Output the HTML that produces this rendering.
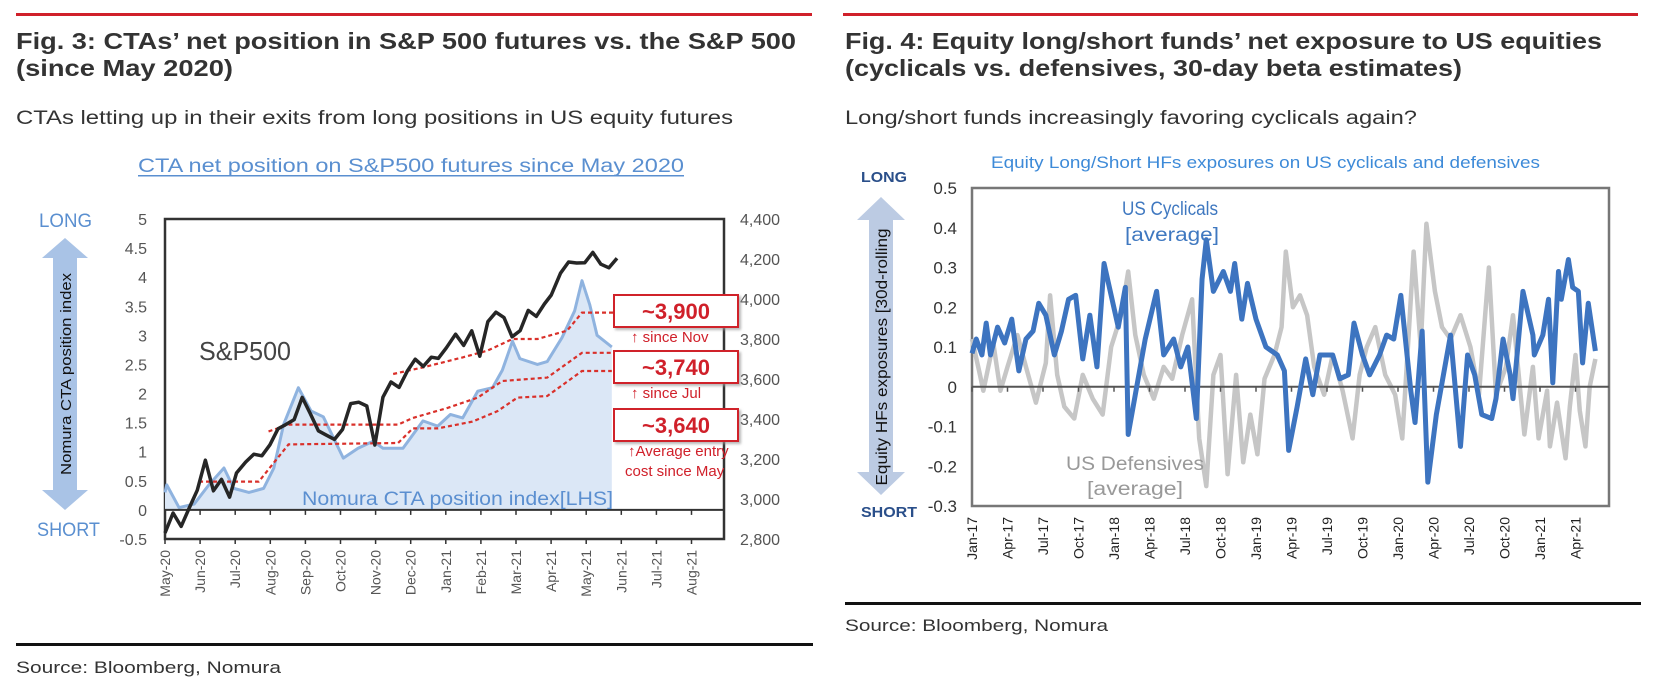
<!DOCTYPE html>
<html><head><meta charset="utf-8"><style>
html,body{margin:0;padding:0;background:#fff;}
svg{display:block;font-family:"Liberation Sans",Arial,sans-serif;}
</style></head><body>
<svg id="page" width="1662" height="695" viewBox="0 0 1662 695" xmlns="http://www.w3.org/2000/svg">
<defs>
<filter id="sh" x="-10%" y="-10%" width="130%" height="140%"><feDropShadow dx="2" dy="2" stdDeviation="1.2" flood-color="#999" flood-opacity="0.7"/></filter>
</defs>
<!-- headers -->
<rect x="16" y="13" width="796" height="3" fill="#d0202a"/>
<rect x="843" y="13" width="795" height="3" fill="#d0202a"/>
<g fill="#333" font-weight="bold" font-size="23">
<text x="16" y="49" textLength="780" lengthAdjust="spacingAndGlyphs">Fig. 3: CTAs’ net position in S&amp;P 500 futures vs. the S&amp;P 500</text>
<text x="16" y="76" textLength="217" lengthAdjust="spacingAndGlyphs">(since May 2020)</text>
<text x="845" y="49" textLength="757" lengthAdjust="spacingAndGlyphs">Fig. 4: Equity long/short funds’ net exposure to US equities</text>
<text x="845" y="76" textLength="617" lengthAdjust="spacingAndGlyphs">(cyclicals vs. defensives, 30-day beta estimates)</text>
</g>
<g fill="#333" font-size="19">
<text x="16" y="124" textLength="717" lengthAdjust="spacingAndGlyphs">CTAs letting up in their exits from long positions in US equity futures</text>
<text x="845" y="124" textLength="572" lengthAdjust="spacingAndGlyphs">Long/short funds increasingly favoring cyclicals again?</text>
</g>
<!-- footers -->
<rect x="16" y="643" width="797" height="3" fill="#111"/>
<rect x="845" y="602" width="796" height="3" fill="#111"/>
<text x="16" y="673" font-size="17" fill="#333" textLength="265" lengthAdjust="spacingAndGlyphs">Source: Bloomberg, Nomura</text>
<text x="845" y="631" font-size="17" fill="#333" textLength="263" lengthAdjust="spacingAndGlyphs">Source: Bloomberg, Nomura</text>

<!-- LEFT CHART static -->
<g id="left-chart">
<text x="138" y="172" font-size="19" fill="#5a8fd0" textLength="546" lengthAdjust="spacingAndGlyphs">CTA net position on S&amp;P500 futures since May 2020</text>
<rect x="138" y="175" width="546" height="1.5" fill="#5a8fd0"/>
<text x="39" y="227" font-size="19" fill="#5a8fd0" textLength="53" lengthAdjust="spacingAndGlyphs">LONG</text>
<text x="37" y="536" font-size="19" fill="#5a8fd0" textLength="63" lengthAdjust="spacingAndGlyphs">SHORT</text>
<polygon points="65,238 88,258 77,258 77,490 88,490 65,510 42,490 53,490 53,258 42,258" fill="#a9c3e6"/>
<text transform="translate(71,374) rotate(-90)" text-anchor="middle" font-size="15" fill="#111" textLength="202" lengthAdjust="spacingAndGlyphs">Nomura CTA position index</text>
<g id="lc-plot"></g>
<text x="199" y="360" font-size="26" fill="#444" textLength="92" lengthAdjust="spacingAndGlyphs">S&amp;P500</text>
<text x="302" y="505" font-size="19" fill="#5b8fd0" textLength="311" lengthAdjust="spacingAndGlyphs">Nomura CTA position index[LHS]</text>
<g id="lc-boxes"></g>
</g>

<!-- RIGHT CHART static -->
<g id="right-chart">
<text x="991" y="168" font-size="17" fill="#3d8ad8" textLength="549" lengthAdjust="spacingAndGlyphs">Equity Long/Short HFs exposures on US cyclicals and defensives</text>
<text x="861" y="182" font-size="15" font-weight="bold" fill="#2a4f8a" textLength="46" lengthAdjust="spacingAndGlyphs">LONG</text>
<text x="861" y="517" font-size="15" font-weight="bold" fill="#2a4f8a" textLength="56" lengthAdjust="spacingAndGlyphs">SHORT</text>
<polygon points="881,197 905,220 893,220 893,472 905,472 881,495 857,472 869,472 869,220 857,220" fill="#bccbe3"/>
<text transform="translate(887,357) rotate(-90)" text-anchor="middle" font-size="16" fill="#111" textLength="257" lengthAdjust="spacingAndGlyphs">Equity HFs exposures  [30d-rolling</text>
<g id="rc-plot"></g>
<text x="1170" y="215" text-anchor="middle" font-size="19" fill="#3f78c0" textLength="96" lengthAdjust="spacingAndGlyphs">US Cyclicals</text>
<text x="1172" y="241" text-anchor="middle" font-size="19" fill="#3f78c0" textLength="94" lengthAdjust="spacingAndGlyphs">[average]</text>
<text x="1135" y="470" text-anchor="middle" font-size="19" fill="#999" textLength="138" lengthAdjust="spacingAndGlyphs">US Defensives</text>
<text x="1135" y="495" text-anchor="middle" font-size="19" fill="#999" textLength="96" lengthAdjust="spacingAndGlyphs">[average]</text>
</g>
</svg>
<script>
// ===== LEFT CHART DATA =====
const spDates = ["2020-05-01","2020-05-08","2020-05-15","2020-05-22","2020-05-29","2020-06-05","2020-06-12","2020-06-19","2020-06-26","2020-07-02","2020-07-10","2020-07-17","2020-07-24","2020-07-31","2020-08-07","2020-08-14","2020-08-21","2020-08-28","2020-09-04","2020-09-11","2020-09-18","2020-09-25","2020-10-02","2020-10-09","2020-10-16","2020-10-23","2020-10-30","2020-11-06","2020-11-13","2020-11-20","2020-11-27","2020-12-04","2020-12-11","2020-12-18","2020-12-24","2020-12-31","2021-01-08","2021-01-15","2021-01-22","2021-01-29","2021-02-05","2021-02-12","2021-02-19","2021-02-26","2021-03-05","2021-03-12","2021-03-19","2021-03-26","2021-04-01","2021-04-09","2021-04-16","2021-04-23","2021-04-30","2021-05-07","2021-05-14","2021-05-21","2021-05-28"];
const spValues = [2830,2930,2863,2955,3044,3194,3041,3098,3009,3130,3185,3224,3216,3271,3351,3373,3397,3508,3427,3341,3319,3298,3348,3477,3484,3465,3270,3509,3585,3558,3638,3699,3663,3709,3703,3756,3824,3768,3841,3714,3887,3934,3907,3811,3842,3943,3913,3975,4020,4129,4185,4180,4181,4233,4174,4156,4204];
const ctaMonths = [0,0.05,0.40,0.83,1.25,1.68,1.96,2.39,2.81,3.10,3.38,3.80,4.16,4.51,5.08,5.50,5.93,6.21,6.78,7.35,7.77,8.13,8.48,8.91,9.33,9.61,9.90,10.11,10.61,10.89,11.31,11.67,11.88,12.10,12.31,12.73];
const ctaValues = [0.3,0.43,0.04,0.1,0.43,0.72,0.37,0.3,0.37,0.72,1.47,2.1,1.7,1.6,0.89,1.06,1.18,1.06,1.06,1.53,1.44,1.64,1.58,2.04,2.1,2.4,2.9,2.6,2.5,2.55,2.96,3.42,3.94,3.53,3.0,2.8];
const costMayMonths = [0.97,2.67,3.52,6.64,7.06,7.77,8.76,9.47,10.04,10.89,11.88,12.73];
const costMayValues = [3087,3087,3273,3280,3353,3353,3387,3439,3507,3515,3640,3640];
const costJulMonths = [2.95,3.52,6.64,7.06,8.06,8.91,9.61,10.89,11.88,12.73];
const costJulValues = [3338,3372,3372,3405,3456,3507,3590,3607,3731,3731];
const costNovMonths = [6.50,7.35,8.48,9.19,9.90,10.61,11.46,11.88,12.80];
const costNovValues = [3625,3658,3708,3742,3800,3800,3842,3932,3932];
const leftTicks = ["-0.5","0","0.5","1","1.5","2","2.5","3","3.5","4","4.5","5"];
const rightTicks = ["2,800","3,000","3,200","3,400","3,600","3,800","4,000","4,200","4,400"];
const monthLabels = ["May-20","Jun-20","Jul-20","Aug-20","Sep-20","Oct-20","Nov-20","Dec-20","Jan-21","Feb-21","Mar-21","Apr-21","May-21","Jun-21","Jul-21","Aug-21"];
const costLabels = ["~3,900","~3,740","~3,640"];

// ===== RIGHT CHART DATA =====
const cycYears = [0.00,0.03,0.07,0.10,0.13,0.18,0.23,0.28,0.33,0.38,0.43,0.47,0.52,0.58,0.63,0.68,0.73,0.78,0.83,0.88,0.93,0.98,1.03,1.08,1.10,1.15,1.22,1.30,1.35,1.42,1.47,1.52,1.58,1.62,1.65,1.70,1.77,1.82,1.85,1.90,1.94,2.00,2.07,2.15,2.20,2.23,2.29,2.35,2.40,2.45,2.54,2.59,2.65,2.69,2.75,2.80,2.87,2.92,2.97,3.02,3.09,3.12,3.17,3.21,3.27,3.32,3.37,3.44,3.49,3.54,3.59,3.66,3.69,3.74,3.79,3.81,3.88,3.95,3.96,4.02,4.06,4.09,4.13,4.15,4.20,4.23,4.27,4.30,4.34,4.39];
const cycValues = [0.084,0.12,0.08,0.16,0.08,0.15,0.11,0.17,0.04,0.12,0.14,0.21,0.18,0.08,0.14,0.22,0.23,0.07,0.18,0.05,0.31,0.23,0.15,0.25,-0.12,-0.02,0.12,0.24,0.08,0.12,0.05,0.1,-0.08,0.27,0.37,0.24,0.29,0.24,0.31,0.17,0.26,0.17,0.1,0.08,0.04,-0.16,-0.05,0.07,-0.02,0.08,0.08,0.02,0.03,0.16,0.08,0.03,0.08,0.13,0.12,0.23,-0.01,-0.09,0.14,-0.24,-0.07,0.03,0.13,-0.15,0.08,0.03,-0.07,-0.08,-0.03,0.12,0.03,-0.03,0.24,0.13,0.08,0.13,0.22,0.01,0.29,0.22,0.32,0.25,0.24,0.06,0.21,0.09];
const defYears = [0.00,0.05,0.08,0.15,0.20,0.25,0.32,0.38,0.45,0.52,0.55,0.60,0.65,0.72,0.78,0.85,0.92,0.98,1.05,1.10,1.15,1.21,1.28,1.35,1.41,1.48,1.55,1.60,1.65,1.70,1.75,1.80,1.86,1.91,1.96,2.01,2.06,2.13,2.18,2.21,2.26,2.31,2.36,2.41,2.48,2.54,2.61,2.68,2.73,2.78,2.84,2.91,2.98,3.03,3.08,3.11,3.16,3.20,3.26,3.31,3.37,3.44,3.51,3.57,3.64,3.69,3.76,3.81,3.89,3.95,3.99,4.05,4.07,4.12,4.18,4.21,4.25,4.28,4.32,4.35,4.39];
const defValues = [0.12,0.04,-0.01,0.11,-0.01,0.05,0.13,0.05,-0.04,0.06,0.23,0.03,-0.05,-0.08,0.03,-0.03,-0.07,0.1,0.18,0.29,0.13,0.03,-0.03,0.05,0.02,0.13,0.22,-0.13,-0.25,0.03,0.08,-0.22,0.03,-0.19,-0.07,-0.17,0.02,0.08,0.15,0.34,0.2,0.23,0.18,0.05,-0.02,0.08,-0.01,-0.13,0.03,0.1,0.15,0.03,-0.02,-0.13,0.16,0.34,0.1,0.41,0.24,0.15,0.12,0.18,0.1,-0.02,0.3,-0.02,0.05,0.18,-0.12,0.05,-0.13,-0.01,-0.15,-0.04,-0.18,-0.05,0.08,-0.06,-0.15,0,0.07];
const rTicks = ["-0.3","-0.2","-0.1","0","0.1","0.2","0.3","0.4","0.5"];
const qLabels = ["Jan-17","Apr-17","Jul-17","Oct-17","Jan-18","Apr-18","Jul-18","Oct-18","Jan-19","Apr-19","Jul-19","Oct-19","Jan-20","Apr-20","Jul-20","Oct-20","Jan-21","Apr-21"];

const NS = "http://www.w3.org/2000/svg";
function mk(tag, attrs, parent){const e=document.createElementNS(NS,tag);for(const k in attrs)e.setAttribute(k,attrs[k]);parent.appendChild(e);return e;}

// ---------- LEFT chart ----------
const L = {x0:165, x1:724, top:219, bot:539};
const monthW = 35.1;
const xM = m => L.x0 + m*monthW;
const yL = v => L.bot - (v + 0.5)/5.5*(L.bot-L.top);
const yR = v => L.bot - (v - 2800)/1600*(L.bot-L.top);
const base = Date.UTC(2020,4,1);
const dateToM = s => { const p=s.split("-"); return (Date.UTC(+p[0],+p[1]-1,+p[2])-base)/86400000/30.44; };
const lp = document.getElementById("lc-plot");

let frame = mk("rect",{x:L.x0,y:L.top,width:L.x1-L.x0,height:L.bot-L.top,fill:"none",stroke:"#333","stroke-width":2.5},lp);



// CTA area + line
let ctaPts = ctaMonths.map((m,i)=>[xM(m),yL(ctaValues[i])]);
let area = mk("path",{d:"M"+ctaPts[0][0]+","+yL(0)+" L"+ctaPts.map(p=>p.join(",")).join(" L")+" L"+ctaPts[ctaPts.length-1][0]+","+yL(0)+" Z",fill:"#dbe7f6",stroke:"none"},lp);


let ctaLine = mk("polyline",{points:ctaPts.map(p=>p.join(",")).join(" "),fill:"none",stroke:"#8fb3df","stroke-width":3,"stroke-linejoin":"round"},lp);



// zero line with ticks
let zl = mk("line",{x1:L.x0,x2:L.x1,y1:yL(0),y2:yL(0),stroke:"#333","stroke-width":2},lp);


for(let i=0;i<monthLabels.length;i++){
  const x=xM(i);
  let t=mk("line",{x1:x,x2:x,y1:yL(0),y2:yL(0)+5,stroke:"#333","stroke-width":1.5},lp);
  
  
  let t2=mk("line",{x1:x,x2:x,y1:L.bot,y2:L.bot+5,stroke:"#333","stroke-width":1.5},lp);
  
  
  let lb=mk("text",{transform:`translate(${x+5},550) rotate(-90)`,"text-anchor":"end","font-size":14,fill:"#555"},lp);
  lb.textContent=monthLabels[i];
  
  
}
// cost lines
[[costMayMonths,costMayValues,'avg-cost-since-may-line'],[costJulMonths,costJulValues,'avg-cost-since-jul-line'],[costNovMonths,costNovValues,'avg-cost-since-nov-line']].forEach(([ms,vs,nm])=>{
  let pl=mk("polyline",{points:ms.map((m,i)=>xM(m)+","+yR(vs[i])).join(" "),fill:"none",stroke:"#d9302a","stroke-width":2.2,"stroke-dasharray":"4,3"},lp);
  
  
});
// S&P line
let spLine = mk("polyline",{points:spDates.map((d,i)=>xM(dateToM(d))+","+yR(spValues[i])).join(" "),fill:"none",stroke:"#262626","stroke-width":3.5,"stroke-linejoin":"round"},lp);


// tick labels
leftTicks.forEach((t,i)=>{
  let e=mk("text",{x:147,y:yL(-0.5+i*0.5)+6,"text-anchor":"end","font-size":16,fill:"#555"},lp);
  e.textContent=t;
  
  
});
rightTicks.forEach((t,i)=>{
  let e=mk("text",{x:740,y:yR(2800+i*200)+6,"font-size":16,fill:"#555"},lp);
  e.textContent=t;
  
  
});
// label boxes
const bx = document.getElementById("lc-boxes");
const boxY=[295,351,409], subs=[["↑  since Nov"],["↑  since Jul"],["↑Average entry","cost since May"]];
costLabels.forEach((c,i)=>{
  let r=mk("rect",{x:614,y:boxY[i],width:124,height:32,fill:"#fff",stroke:"#d0202a","stroke-width":2,filter:"url(#sh)"},bx);
  
  
  let t=mk("text",{x:676,y:boxY[i]+24,"text-anchor":"middle","font-size":22,"font-weight":"bold",fill:"#d0202a"},bx);
  t.textContent=c;
  
  
  subs[i].forEach((s,j)=>{
    let st=mk("text",{x:i==2?(j==0?628:625):631,y:boxY[i]+47+j*20,"font-size":15,fill:"#d0202a"},bx);
    st.textContent=s;
    
    
  });
});

// ---------- RIGHT chart ----------
const R = {x0:972, x1:1609, top:188, bot:506};
const yrW = 142;
const xY = t => R.x0 + t*yrW;
const yV = v => R.bot - (v + 0.3)/0.8*(R.bot-R.top);
const rp = document.getElementById("rc-plot");
let rf = mk("rect",{x:R.x0,y:R.top,width:R.x1-R.x0,height:R.bot-R.top,fill:"none",stroke:"#777","stroke-width":2.5},rp);


let dl = mk("polyline",{points:defYears.map((t,i)=>xY(t)+","+yV(defValues[i])).join(" "),fill:"none",stroke:"#c6c6c6","stroke-width":4.5,"stroke-linejoin":"round"},rp);


let rz = mk("line",{x1:R.x0,x2:R.x1,y1:yV(0),y2:yV(0),stroke:"#555","stroke-width":2},rp);


let cl = mk("polyline",{points:cycYears.map((t,i)=>xY(t)+","+yV(cycValues[i])).join(" "),fill:"none",stroke:"#3d74c0","stroke-width":5,"stroke-linejoin":"round"},rp);


qLabels.forEach((q,i)=>{
  const x=xY(i*0.25);
  let t=mk("line",{x1:x,x2:x,y1:yV(0),y2:yV(0)+5,stroke:"#555","stroke-width":1.5},rp);
  
  
  let lb=mk("text",{transform:`translate(${x+5},517) rotate(-90)`,"text-anchor":"end","font-size":14,fill:"#222"},rp);
  lb.textContent=q;
  
  
});
rTicks.forEach((t,i)=>{
  let e=mk("text",{x:957,y:yV(-0.3+i*0.1)+6,"text-anchor":"end","font-size":17,fill:"#333"},rp);
  e.textContent=t;
  
  
});
</script>
</body></html>
